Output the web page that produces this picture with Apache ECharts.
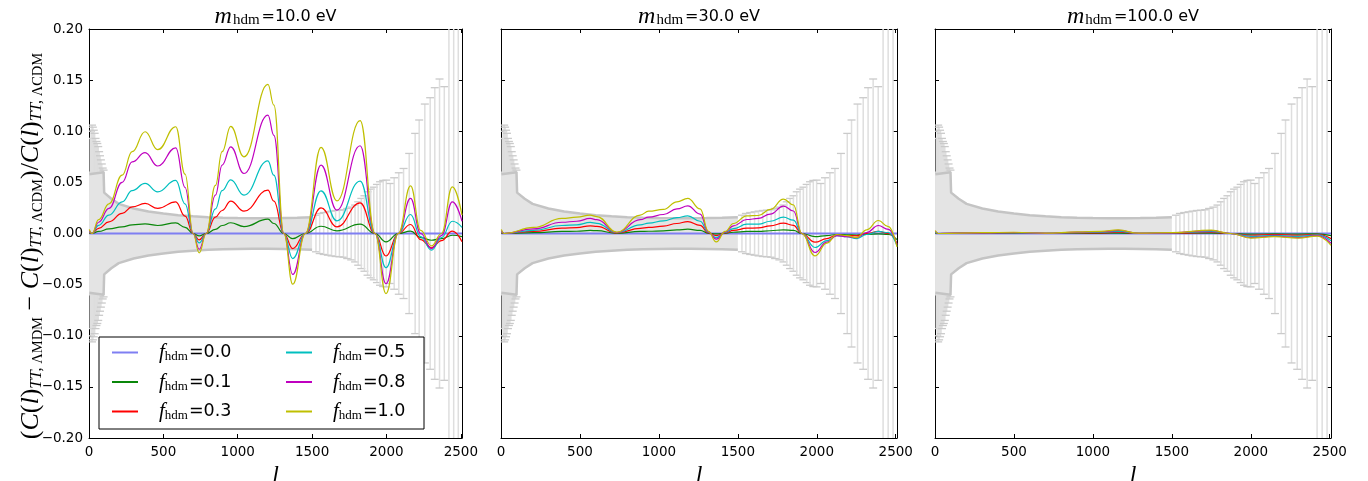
<!DOCTYPE html>
<html><head><meta charset="utf-8">
<script src="https://cdn.jsdelivr.net/npm/echarts@6/dist/echarts.min.js"></script>
<style>html,body{margin:0;padding:0;background:#fff}#c{width:1368px;height:481px}</style>
</head><body><div id="c"></div>
<script>
// ---------- tick labels / categories ----------
const xTicks = [0, 500, 1000, 1500, 2000, 2500];
const fLabels = ['0.0', '0.1', '0.3', '0.5', '0.8', '1.0'];
const massLabels = ['10.0 eV', '30.0 eV', '100.0 eV'];

// ---------- error bars (data uncertainty, symmetric) ----------
// dense region (l < 1500): half-width envelope
const bandL = [2, 98, 102, 150, 200, 300, 400, 500, 600, 700, 800, 900, 1000, 1100, 1200, 1300, 1400, 1500];
const bandS = [0.058, 0.060, 0.040, 0.034, 0.029, 0.0245, 0.0215, 0.0195, 0.0178, 0.0168, 0.016, 0.0155, 0.0152, 0.015, 0.015, 0.0152, 0.0155, 0.016];
// low-l individual bars
const lowL = [3, 8, 14, 20, 26, 32, 38, 44, 50, 56, 62, 68, 74, 80, 86, 92, 98];
const lowS = [0.06, 0.093, 0.1, 0.106, 0.104, 0.101, 0.098, 0.093, 0.09, 0.088, 0.085, 0.08, 0.076, 0.072, 0.068, 0.064, 0.062];
// high-l binned bars
const hiL = [1526, 1551, 1578, 1606, 1631, 1658, 1684, 1711, 1736, 1763, 1789, 1810, 1831, 1852, 1873, 1894, 1915, 1936, 1957, 1978, 1999, 2026, 2052, 2083, 2115, 2153, 2193, 2220, 2258, 2294, 2325, 2357, 2389, 2420, 2452, 2483];
const hiS = [0.0179, 0.0196, 0.0205, 0.0212, 0.0219, 0.0225, 0.0228, 0.0232, 0.0245, 0.0258, 0.0278, 0.031, 0.0343, 0.0369, 0.0408, 0.0434, 0.0453, 0.048, 0.0506, 0.0519, 0.0522, 0.0489, 0.0545, 0.0594, 0.0636, 0.0783, 0.0979, 0.111, 0.1266, 0.1328, 0.1426, 0.1511, 0.1436, 0.30, 0.32, 0.35];

// ---------- f_hdm = 0.0 (all panels) ----------
const zeroL = [2, 2508];
const f00 = [0, 0];

// ---------- panel 1: m_hdm = 10 eV ----------
const L1 = [2, 20, 65, 134, 223, 290, 377, 462, 583, 646, 700, 741, 788, 850, 895, 953, 1042, 1203, 1243, 1310, 1370, 1455, 1560, 1667, 1823, 1923, 1997, 2080, 2162, 2230, 2303, 2370, 2443, 2508];
const p1f01 = [0, 0, 0.002, 0.0045, 0.0065, 0.0085, 0.0094, 0.0078, 0.0104, 0.006, 0, -0.0023, 0, 0.004, 0.0078, 0.0105, 0.0068, 0.014, 0.0098, 0, -0.005, 0, 0.0071, 0.0025, 0.0091, 0, -0.0082, 0, 0.0023, -0.004, -0.0066, -0.005, -0.0017, -0.003];
const p1f03 = [0.001, 0, 0.005, 0.0114, 0.0196, 0.026, 0.0294, 0.0245, 0.031, 0.017, 0, -0.0062, 0, 0.016, 0.0225, 0.0316, 0.0218, 0.0424, 0.0316, 0, -0.0147, 0, 0.025, 0.0065, 0.030, 0, -0.022, 0, 0.0088, -0.006, -0.014, -0.007, 0.0023, -0.008];
const p1f05 = [0.002, 0, 0.008, 0.018, 0.031, 0.042, 0.049, 0.0407, 0.0519, 0.029, 0, -0.0092, 0, 0.024, 0.042, 0.0525, 0.0375, 0.0711, 0.057, 0, -0.0245, 0, 0.0417, 0.0124, 0.0512, 0, -0.0333, 0, 0.0186, -0.003, -0.0163, -0.004, 0.012, 0.006];
const p1f08 = [0.003, 0, 0.011, 0.0245, 0.050, 0.070, 0.079, 0.066, 0.0838, 0.045, 0, -0.0154, 0, 0.0375, 0.0669, 0.0848, 0.0587, 0.1158, 0.096, 0, -0.040, 0, 0.0669, 0.0228, 0.0858, 0, -0.049, 0, 0.0343, 0, -0.0147, -0.002, 0.031, 0.012];
const p1f10 = [0.004, 0, 0.0135, 0.029, 0.057, 0.080, 0.0995, 0.082, 0.1044, 0.058, 0, -0.019, 0, 0.047, 0.080, 0.1048, 0.075, 0.1458, 0.1256, 0, -0.0496, 0, 0.0842, 0.032, 0.1103, 0, -0.0588, 0, 0.0466, 0.003, -0.0121, 0, 0.0456, 0.018];

// ---------- panel 2: m_hdm = 30 eV ----------
const L2 = [2, 20, 206, 386, 480, 565, 607, 734, 882, 935, 1029, 1114, 1183, 1261, 1314, 1363, 1420, 1472, 1557, 1630, 1705, 1789, 1852, 1905, 1989, 2063, 2127, 2190, 2253, 2316, 2390, 2453, 2508];
const p2f01 = [0, 0, 0.0008, 0.002, 0.0022, 0.003, 0.0028, 0.0002, 0.002, 0.0022, 0.0026, 0.0035, 0.0042, 0.003, 0.0002, -0.0003, 0.0002, 0.0012, 0.002, 0.002, 0.0027, 0.0036, 0.003, 0, -0.003, -0.002, -0.001, -0.0012, -0.0015, -0.0008, -0.0003, -0.001, -0.006];
const p2f03 = [0.001, 0, 0.002, 0.0052, 0.0058, 0.0075, 0.007, 0.0005, 0.005, 0.0059, 0.0072, 0.0098, 0.0117, 0.008, 0.0005, -0.002, 0.0005, 0.003, 0.0052, 0.0055, 0.0075, 0.0101, 0.008, 0, -0.0085, -0.005, -0.0015, -0.002, -0.0023, 0, 0.002, 0, -0.01];
const p2f05 = [0.002, 0, 0.003, 0.0078, 0.0085, 0.0108, 0.010, 0.0008, 0.0085, 0.0101, 0.0124, 0.0155, 0.0173, 0.012, 0.001, -0.004, 0.001, 0.0048, 0.0091, 0.0091, 0.012, 0.016, 0.013, 0, -0.0137, -0.007, -0.002, -0.003, -0.005, -0.001, 0.002, 0.001, -0.012];
const p2f08 = [0.003, 0, 0.0045, 0.011, 0.012, 0.0147, 0.0135, 0.001, 0.0135, 0.016, 0.0186, 0.024, 0.027, 0.019, 0.0015, -0.0055, 0.0015, 0.0075, 0.0137, 0.0147, 0.019, 0.0268, 0.022, 0, -0.0186, -0.0085, -0.002, -0.003, -0.004, 0.001, 0.0078, 0.004, -0.011];
const p2f10 = [0.004, 0, 0.0059, 0.0147, 0.016, 0.018, 0.0165, 0.0013, 0.018, 0.0218, 0.0235, 0.031, 0.0343, 0.024, 0.002, -0.0082, 0.002, 0.0098, 0.0172, 0.0176, 0.0235, 0.0336, 0.028, 0, -0.0219, -0.0095, -0.001, -0.002, -0.004, 0.0036, 0.0127, 0.0068, -0.013];

// ---------- panel 3: m_hdm = 100 eV ----------
const L3 = [2, 20, 300, 500, 700, 900, 1050, 1160, 1290, 1500, 1750, 1870, 2000, 2150, 2300, 2420, 2508];
const p3f01 = [0, 0, 0.0001, 0.0001, 0, 0.0002, 0.0002, 0.0004, 0, 0.0001, 0.0004, 0, -0.0006, -0.0004, -0.0006, -0.0003, -0.002];
const p3f03 = [0.001, 0, 0.0003, 0.0004, 0.0001, 0.0005, 0.0007, 0.0012, 0.0001, 0.0003, 0.0011, 0, -0.0017, -0.0011, -0.0017, -0.0009, -0.005];
const p3f05 = [0.0015, 0, 0.0005, 0.0007, 0.0001, 0.0009, 0.0012, 0.002, 0.0001, 0.0005, 0.0019, 0, -0.0028, -0.0018, -0.0028, -0.0014, -0.007];
const p3f08 = [0.0025, 0, 0.0007, 0.001, 0.0002, 0.0013, 0.0017, 0.003, 0.0002, 0.0007, 0.0028, 0, -0.004, -0.0025, -0.004, -0.002, -0.0095];
const p3f10 = [0.003, 0, 0.0008, 0.0012, 0.0003, 0.0015, 0.002, 0.0035, 0.0003, 0.0008, 0.0033, 0, -0.0045, -0.003, -0.0045, -0.0025, -0.0115];

// ---------- assembly ----------
const panels = [
  { L: L1, vals: [p1f01, p1f03, p1f05, p1f08, p1f10] },
  { L: L2, vals: [p2f01, p2f03, p2f05, p2f08, p2f10] },
  { L: L3, vals: [p3f01, p3f03, p3f05, p3f08, p3f10] }
];
const colors = ['#7f7ff2', '#0a870a', '#ff0000', '#00bfbf', '#bf00bf', '#bfbf00'];
const grids = [
  { left: 89, top: 29, width: 373, height: 409, outerBoundsMode: 'none', containLabel: false },
  { left: 501, top: 29, width: 396, height: 409, outerBoundsMode: 'none', containLabel: false },
  { left: 935, top: 29, width: 396, height: 409, outerBoundsMode: 'none', containLabel: false }
];
const XMAX = 2508;
const zip = (a, b) => a.map((v, i) => [v, b[i]]);
const fmtY = v => { const r = Math.round(v * 100) / 100; return (r < 0 ? '\u2212' : '') + Math.abs(r).toFixed(2); };
const fmtX = v => String(Math.round(v));

const xAxes = [], yAxes = [], series = [];
grids.forEach((g, p) => {
  xAxes.push({
    gridIndex: p, type: 'value', min: 0, max: XMAX, position: 'bottom',
    axisLine: { onZero: false, lineStyle: { color: '#000', width: 1 } },
    axisTick: { inside: true, length: 4, customValues: xTicks, lineStyle: { color: '#000' } },
    axisLabel: { customValues: xTicks, formatter: fmtX, color: '#000', fontFamily: 'DejaVu Sans', fontSize: 13.5, margin: 7 },
    splitLine: { show: false },
    name: 'l', nameLocation: 'middle', nameGap: 25,
    nameTextStyle: { fontFamily: 'Liberation Serif', fontStyle: 'italic', fontSize: 24, color: '#000' }
  });
  xAxes.push({
    gridIndex: p, type: 'value', min: 0, max: XMAX, position: 'top',
    axisLine: { onZero: false, lineStyle: { color: '#000', width: 1 } },
    axisTick: { inside: true, length: 4, customValues: xTicks, lineStyle: { color: '#000' } },
    axisLabel: { show: false }, splitLine: { show: false }
  });
  yAxes.push({
    gridIndex: p, type: 'value', min: -0.2, max: 0.2, interval: 0.05, position: 'left',
    axisLine: { show: true, onZero: false, lineStyle: { color: '#000', width: 1 } },
    axisTick: { show: true, inside: true, length: 4, lineStyle: { color: '#000' } },
    axisLabel: { show: p === 0, formatter: fmtY, color: '#000', fontFamily: 'DejaVu Sans', fontSize: 13.5, margin: 6 },
    splitLine: { show: false }
  });
  yAxes.push({
    gridIndex: p, type: 'value', min: -0.2, max: 0.2, interval: 0.05, position: 'right',
    axisLine: { show: true, onZero: false, lineStyle: { color: '#000', width: 1 } },
    axisTick: { show: true, inside: true, length: 4, lineStyle: { color: '#000' } },
    axisLabel: { show: false }, splitLine: { show: false }
  });
  const xi = p * 2, yi = p * 2;
  // dense error region as filled band
  [1, -1].forEach(sg => {
    series.push({
      type: 'line', xAxisIndex: xi, yAxisIndex: yi, silent: true, symbol: 'none',
      data: zip(bandL, bandS.map(s => sg * s)),
      lineStyle: { color: '#c4c4c4', width: 2.5 },
      areaStyle: { color: '#e4e4e4', opacity: 1, origin: 0 }
    });
  });
  // individual error bars
  const errRender = (params, api) => {
    const l = api.value(0), s = api.value(1);
    const t = api.coord([l, s]), b = api.coord([l, -s]);
    const cs = params.coordSys;
    const y0 = cs.y, y1 = cs.y + cs.height;
    const xl = Math.max(t[0] - 4, cs.x), xr = Math.min(t[0] + 4, cs.x + cs.width);
    const ty = Math.max(t[1], y0), by = Math.min(b[1], y1);
    const ch = [{ type: 'line', shape: { x1: t[0], y1: ty, x2: t[0], y2: by }, style: { stroke: '#dedede', lineWidth: 1.5 } }];
    if (t[1] >= y0) ch.push({ type: 'line', shape: { x1: xl, y1: t[1], x2: xr, y2: t[1] }, style: { stroke: '#cacaca', lineWidth: 1.3 } });
    if (b[1] <= y1) ch.push({ type: 'line', shape: { x1: xl, y1: b[1], x2: xr, y2: b[1] }, style: { stroke: '#cacaca', lineWidth: 1.3 } });
    return { type: 'group', children: ch };
  };
  [[lowL, lowS], [hiL, hiS]].forEach(([ls, ss]) => {
    series.push({
      type: 'custom', xAxisIndex: xi, yAxisIndex: yi, silent: true, clip: true,
      data: zip(ls, ss), encode: { x: 0, y: 1 }, renderItem: errRender
    });
  });
  // model curves
  series.push({
    name: fLabels[0], type: 'line', xAxisIndex: xi, yAxisIndex: yi, symbol: 'none', silent: true,
    data: zip(zeroL, f00), lineStyle: { color: colors[0], width: 2 }, itemStyle: { color: colors[0] }
  });
  panels[p].vals.forEach((v, k) => {
    series.push({
      name: fLabels[k + 1], type: 'line', xAxisIndex: xi, yAxisIndex: yi, symbol: 'none', silent: true,
      smooth: 0.45, smoothMonotone: 'x',
      data: zip(panels[p].L, v), lineStyle: { color: colors[k + 1], width: 1.2 }, itemStyle: { color: colors[k + 1] }
    });
  });
});

const legRich = {
  g: { width: 16 },
  i: { fontFamily: 'Liberation Serif', fontStyle: 'italic', fontSize: 21, lineHeight: 22, color: '#000' },
  s: { fontFamily: 'Liberation Serif', fontSize: 13, lineHeight: 22, verticalAlign: 'bottom', padding: [0, 1, 0, 0], color: '#000' },
  n: { fontFamily: 'DejaVu Sans', fontSize: 17.5, lineHeight: 22, color: '#000' }
};
const legFmt = name => '{g|}{i|f}{s|hdm}{n|=' + name + '}';
const legendBase = {
  orient: 'vertical', itemWidth: 26, itemHeight: 2, icon: 'rect', itemGap: 8, padding: 0,
  selectedMode: false, formatter: legFmt, textStyle: { rich: legRich }
};

const titleRich = {
  i: { fontFamily: 'Liberation Serif', fontStyle: 'italic', fontSize: 24, lineHeight: 22, padding: [0, 1, 0, 0], fill: '#000' },
  s: { fontFamily: 'Liberation Serif', fontSize: 15, lineHeight: 22, verticalAlign: 'bottom', padding: [0, 2, 0, 0], fill: '#000' },
  n: { fontFamily: 'DejaVu Sans', fontSize: 16, lineHeight: 22, fill: '#000' }
};
const ylRich = {
  i: { fontFamily: 'Liberation Serif', fontStyle: 'italic', fontSize: 26, lineHeight: 29, fill: '#000' },
  r: { fontFamily: 'Liberation Serif', fontSize: 26, lineHeight: 29, fill: '#000' },
  si: { fontFamily: 'Liberation Serif', fontStyle: 'italic', fontSize: 16.5, lineHeight: 29, verticalAlign: 'bottom', fill: '#000' },
  sr: { fontFamily: 'Liberation Serif', fontSize: 14.5, lineHeight: 29, verticalAlign: 'bottom', fill: '#000' }
};
const ylText = '{r|(}{i|C}{r|(}{i|l}{r|)}{si|TT,}{sr| \u039BMDM}{r| \u2212 }{i|C}{r|(}{i|l}{r|)}{si|TT,}{sr| \u039BCDM}{r|)/}{i|C}{r|(}{i|l}{r|)}{si|TT,}{sr| \u039BCDM}';

const graphic = [
  { type: 'rect', z: 3, silent: true, shape: { x: 99, y: 337, width: 325, height: 92 }, style: { fill: '#fff', stroke: '#000', lineWidth: 1 } },
  { type: 'text', silent: true, x: 31, y: 246, rotation: Math.PI / 2, style: { text: ylText, rich: ylRich, align: 'center', verticalAlign: 'middle' } }
];
grids.forEach((g, p) => {
  graphic.push({ type: 'text', silent: true, x: g.left + g.width / 2, y: 17,
    style: { text: '{i|m}{s|hdm}{n|=' + massLabels[p] + '}', rich: titleRich, align: 'center', verticalAlign: 'middle' } });
});

const chart = echarts.init(document.getElementById('c'), null, { renderer: 'canvas' });
chart.setOption({
  animation: false,
  backgroundColor: '#fff',
  grid: grids,
  xAxis: xAxes,
  yAxis: yAxes,
  series: series,
  legend: [
    Object.assign({}, legendBase, { data: fLabels.slice(0, 3), left: 112, top: 342 }),
    Object.assign({}, legendBase, { data: fLabels.slice(3), left: 286, top: 342 })
  ],
  graphic: graphic
});
</script></body></html>
